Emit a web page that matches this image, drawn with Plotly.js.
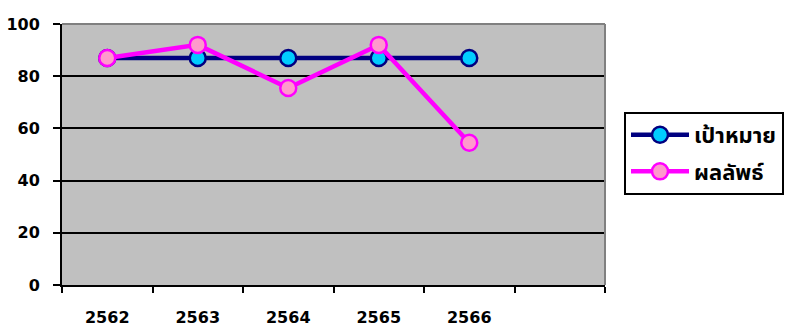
<!DOCTYPE html>
<html>
<head>
<meta charset="utf-8">
<script src="https://cdn.plot.ly/plotly-3.0.1.min.js"></script>
<style>
  html, body { margin: 0; padding: 0; background: #ffffff; }
  #chart { width: 785px; height: 326px; }
</style>
</head>
<body>
<div id="chart"></div>
<script>
// Years (Buddhist era) and the two series
const years = ['2562', '2563', '2564', '2565', '2566'];
const targetValues = [87, 87, 87, 87, 87];
const resultValues = [87, 92, 75.5, 92, 54.5];
const seriesNames = ['เป้าหมาย', 'ผลลัพธ์'];
const yTicks = [0, 20, 40, 60, 80, 100];

// One empty slot is kept after the last year
const slotCount = years.length + 1;
const xPos = years.map((_, i) => i);
const boundaries = Array.from({ length: slotCount + 1 }, (_, i) => i - 0.5);
const bold = s => '<b>' + s + '</b>';

const labelFont = { family: 'DejaVu Sans, Verdana, sans-serif', size: 16, color: '#000000', weight: 700 };

const traces = [
  {
    x: xPos, y: targetValues, name: seriesNames[0], legendgroup: 'a',
    type: 'scatter', mode: 'lines+markers',
    line: { color: '#000080', width: 4.5 },
    marker: { symbol: 'circle', size: 16, color: '#00CCFF', line: { color: '#000080', width: 2.5 } },
    hoverinfo: 'skip'
  },
  {
    x: xPos, y: resultValues, name: seriesNames[1], legendgroup: 'b',
    type: 'scatter', mode: 'lines+markers',
    line: { color: '#FF00FF', width: 4.5 },
    marker: { symbol: 'circle', size: 16, color: '#FF99CC', line: { color: '#FF00FF', width: 2.5 } },
    hoverinfo: 'skip'
  }
];

const layout = {
  width: 785, height: 326,
  margin: { l: 62, r: 180, t: 24, b: 41, pad: 0, autoexpand: false },
  paper_bgcolor: '#ffffff',
  plot_bgcolor: '#C0C0C0',
  showlegend: true,
  legend: {
    x: 1.035, y: 0.663, xanchor: 'left', yanchor: 'top',
    bgcolor: '#ffffff', bordercolor: '#000000', borderwidth: 2,
    font: { family: 'Tahoma, "Noto Sans Thai", "Noto Sans", sans-serif', size: 22, color: '#000000', weight: 'bold' },
    itemwidth: 58, tracegroupgap: 5, traceorder: 'grouped',
    entrywidth: 200, entrywidthmode: 'pixels'
  },
  xaxis: {
    type: 'linear',
    range: [-0.5, slotCount - 0.5],
    tickmode: 'array', tickvals: xPos, ticktext: years.map(bold),
    ticks: '', ticklabelstandoff: 17,
    tickfont: labelFont,
    minor: { tickmode: 'array', tickvals: boundaries, ticks: 'outside', ticklen: 6, tickwidth: 2, tickcolor: '#000000', showgrid: false },
    showgrid: false, zeroline: false,
    showline: true, linecolor: '#000000', linewidth: 2,
    fixedrange: true
  },
  yaxis: {
    range: [0, 100],
    tickmode: 'array', tickvals: yTicks, ticktext: yTicks.map(v => bold(String(v))),
    ticks: 'outside', ticklen: 7, tickwidth: 2, tickcolor: '#000000',
    ticklabelstandoff: 10,
    tickfont: labelFont,
    showgrid: true, gridcolor: '#000000', gridwidth: 2,
    zeroline: false,
    showline: true, linecolor: '#000000', linewidth: 2,
    fixedrange: true
  },
  shapes: [
    // grey frame on the top and right of the plot area
    { type: 'line', xref: 'paper', yref: 'paper', x0: 0, x1: 1, y0: 1, y1: 1, line: { color: '#808080', width: 2 }, layer: 'above' },
    { type: 'line', xref: 'paper', yref: 'paper', x0: 1, x1: 1, y0: 0, y1: 1, line: { color: '#808080', width: 2 }, layer: 'above' }
  ]
};

Plotly.newPlot('chart', traces, layout, { displayModeBar: false, staticPlot: true });
</script>
</body>
</html>
